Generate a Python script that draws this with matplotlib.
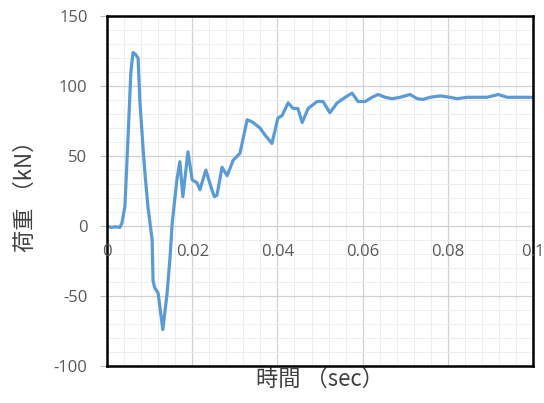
import matplotlib
matplotlib.use("Agg")
import matplotlib.pyplot as plt
from matplotlib.ticker import MultipleLocator

plt.rcParams['font.family'] = ['Noto Sans CJK JP', 'DejaVu Sans']

# time (sec) and load (kN)
time_s = [0.0, 0.0010, 0.0020, 0.0030, 0.0035, 0.0042, 0.0049, 0.0056, 0.0061, 0.0066,
          0.0073, 0.0077, 0.0085, 0.0089, 0.0096, 0.0106, 0.0108, 0.0112, 0.0120, 0.0131,
          0.0141, 0.0148, 0.0153, 0.0164, 0.0171, 0.0178, 0.0190, 0.0200, 0.0211, 0.0218,
          0.0232, 0.0246, 0.0252, 0.0258, 0.0270, 0.0282, 0.0296, 0.0312, 0.0329, 0.0343,
          0.0359, 0.0371, 0.0387, 0.0401, 0.0411, 0.0425, 0.0437, 0.0448, 0.0458, 0.0472,
          0.0493, 0.0507, 0.0523, 0.0540, 0.0559, 0.0575, 0.0589, 0.0606, 0.0622, 0.0636,
          0.0653, 0.0669, 0.0688, 0.0711, 0.0728, 0.0742, 0.0758, 0.0782, 0.0805, 0.0822,
          0.0845, 0.0869, 0.0892, 0.0918, 0.0939, 0.0958, 0.0977, 0.0998]
load_kN = [0.0, -1.0, -0.5, -1.0, 2.0, 14.0, 61.0, 110.0, 124.0, 123.0,
           120.0, 90.0, 54.0, 38.0, 14.0, -10.0, -39.0, -44.0, -48.0, -74.0,
           -48.0, -22.0, 2.0, 33.0, 46.0, 21.0, 53.0, 33.0, 31.0, 26.0,
           40.0, 26.0, 21.0, 22.0, 42.0, 36.0, 47.0, 52.0, 76.0, 74.0,
           70.0, 65.0, 59.0, 77.0, 79.0, 88.0, 84.0, 84.0, 74.0, 84.0,
           89.0, 89.0, 81.0, 88.0, 92.0, 95.0, 89.0, 89.0, 92.0, 94.0,
           92.0, 91.0, 92.0, 94.0, 91.0, 90.5, 92.0, 93.0, 92.0, 91.0,
           92.0, 92.0, 92.0, 94.0, 92.0, 92.0, 92.0, 92.0]

xticks = [0, 0.02, 0.04, 0.06, 0.08, 0.1]
xtick_labels = ['0', '0.02', '0.04', '0.06', '0.08', '0.1']
yticks = [-100, -50, 0, 50, 100, 150]
ytick_labels = ['-100', '-50', '0', '50', '100', '150']
xlabel = '時間 （sec）'
ylabel = '荷重 （kN）'

tick_font = ['Open Sans', 'DejaVu Sans']

fig = plt.figure(figsize=(5.44, 4.03), dpi=100)
ax = fig.add_axes([0.1967, 0.0918, 0.7833, 0.8682])

ax.plot(time_s, load_kN, color='#5B9BD5', lw=2.3, solid_joinstyle='round', zorder=3)

ax.set_xlim(0, 0.1)
ax.set_ylim(-100, 150)
ax.set_xticks(xticks)
ax.set_yticks(yticks)
ax.set_yticklabels(ytick_labels, family=tick_font)
ax.xaxis.set_minor_locator(MultipleLocator(0.004))
ax.yaxis.set_minor_locator(MultipleLocator(10))
ax.grid(which='major', color='#D0D0D0', lw=0.9, zorder=1)
ax.grid(which='minor', color='#EDEDED', lw=0.7, zorder=0)
ax.set_axisbelow(True)

ax.tick_params(axis='x', which='both', length=0, labelbottom=False)
ax.tick_params(axis='y', which='major', length=5, color='#BFBFBF', pad=9,
               labelsize=12, labelcolor='#595959')
ax.tick_params(axis='y', which='minor', length=0)

for s in ax.spines.values():
    s.set_color('black')
    s.set_linewidth(1.8)
    s.set_zorder(5)

for xv, lab in zip(xticks, xtick_labels):
    ax.annotate(lab, xy=(xv, 0), xycoords='data', xytext=(0, -13),
                textcoords='offset points', ha='center', va='top',
                fontsize=12, color='#595959', zorder=6, annotation_clip=False,
                family=tick_font)

ax.set_xlabel(xlabel, fontsize=16, color='#404040', labelpad=1)
ax.set_ylabel(ylabel, fontsize=16, color='#404040', labelpad=12)

fig.savefig('out.png', dpi=100)
